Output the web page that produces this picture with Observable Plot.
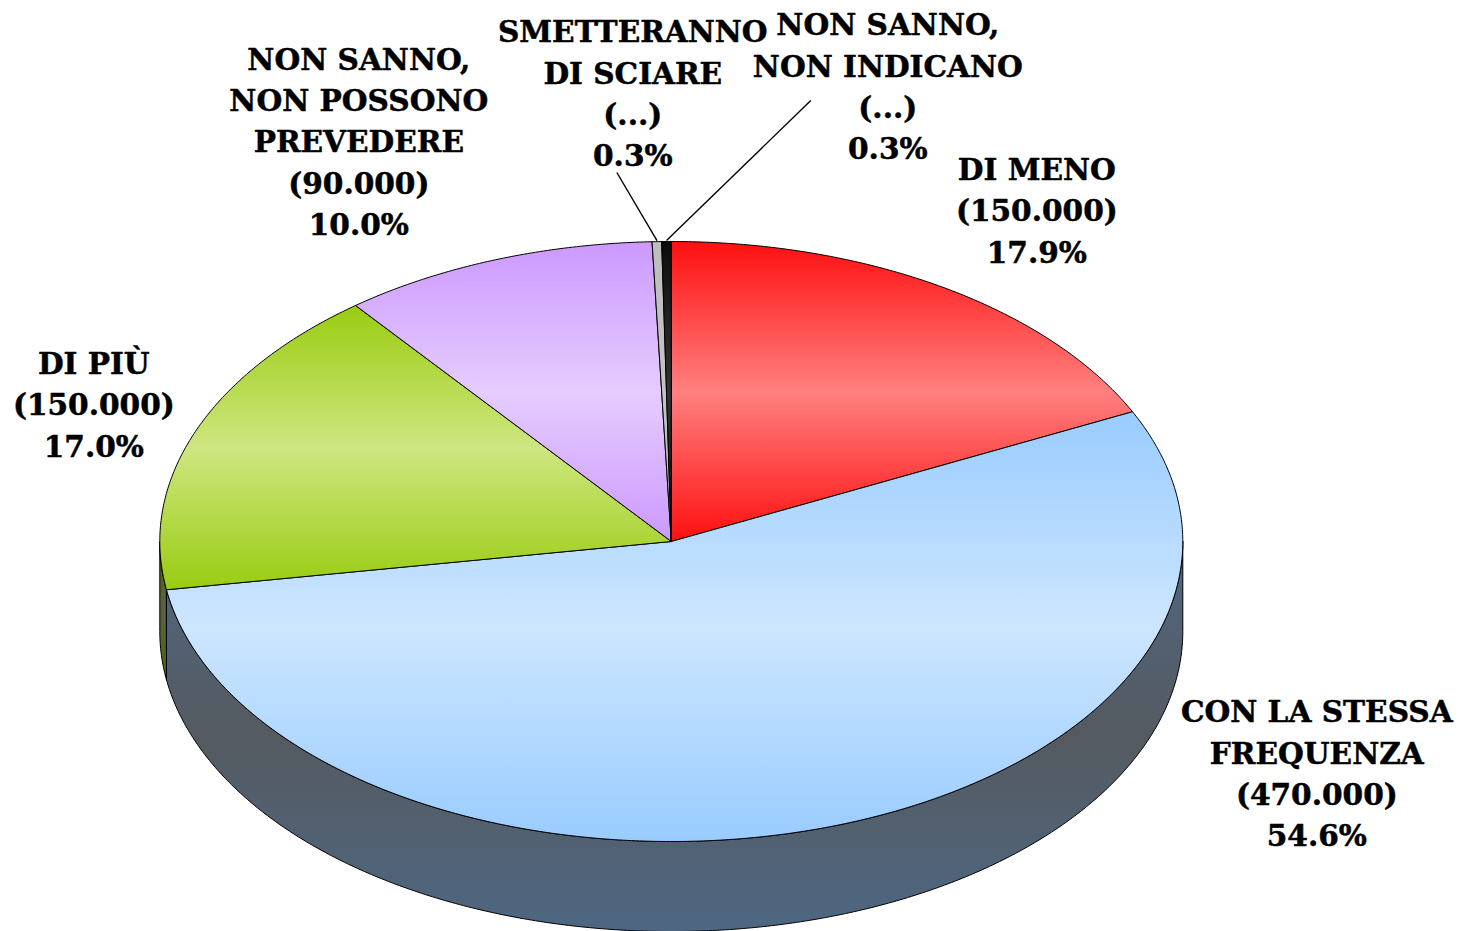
<!DOCTYPE html>
<html>
<head>
<meta charset="utf-8">
<script src="https://cdn.jsdelivr.net/npm/d3@7"></script>
<script src="https://cdn.jsdelivr.net/npm/@observablehq/plot@0.6"></script>
<style>
html,body{margin:0;padding:0;background:#fff;overflow:hidden}
svg{display:block}
</style>
</head>
<body>
<div id="chart"></div>
<script>
const categories = [
  "DI MENO",
  "CON LA STESSA\nFREQUENZA",
  "DI PIÙ",
  "NON SANNO,\nNON POSSONO\nPREVEDERE",
  "SMETTERANNO\nDI SCIARE",
  "NON SANNO,\nNON INDICANO"
];
const counts = [150000, 470000, 150000, 90000, null, null];
const percents = [17.9, 54.6, 17.0, 10.0, 0.3, 0.3];

// Styling and layout, separate from the values
const topStops = [
  ["#ff0f0f", "#ff8080", "#ff0f0f"],
  ["#99ccff", "#cde6ff", "#99ccff"],
  ["#99cc11", "#cee680", "#99cc11"],
  ["#cc99ff", "#e6ccff", "#cc99ff"],
  ["#bdbdbd", "#c4c4c4", "#bdbdbd"],
  ["#0c0c0c", "#333333", "#0c0c0c"]
];
const wallStops = {
  1: ["#4f6783", "#555a60", "#4e6782"],
  2: ["#4d6608", "#5c6040", "#4d6608"]
};
const labelX = [0.7146, 1.262, -1.129, -0.6109, -0.0753, 0.4233];
const labelY = [1.1116, -0.765, 0.465, 1.3416, 1.5016, 1.525];
const leaderEnd = {4: [-0.1065, 1.23], 5: [0.2727, 1.47]};
const depth = 0.3;              // wall height in radii of the vertical axis

const fmtCount = d3.formatLocale({decimal: ",", thousands: ".", grouping: [3], currency: ["", ""]}).format(",");
const total = d3.sum(percents);
const cum = d3.cumsum(percents);
const angleAt = (p) => (p / total) * 2 * Math.PI;

const slices = categories.map((c, i) => {
  const a0 = angleAt(i ? cum[i - 1] : 0), a1 = angleAt(cum[i]);
  return {i, a0, a1, mid: (a0 + a1) / 2};
});

function arc(a0, a1, dy = 0) {
  const n = Math.max(2, Math.ceil((a1 - a0) * 120));
  return d3.range(n + 1).map((k) => {
    const a = a0 + (a1 - a0) * k / n;
    return {x: Math.sin(a), y: Math.cos(a) + dy};
  });
}
const topPoly = (s) => {
  const pts = [{x: 0, y: 0}, ...arc(s.a0, s.a1), {x: 0, y: 0}];
  return pts;
};
const wallPoly = (a0, a1) => {
  const top = arc(a0, a1), bot = arc(a0, a1, -depth).reverse();
  return [...top, ...bot, top[0]];
};

function defs() {
  const ns = "http://www.w3.org/2000/svg";
  const d = document.createElementNS(ns, "defs");
  const add = (id, stops) => {
    const g = document.createElementNS(ns, "linearGradient");
    g.setAttribute("id", id);
    g.setAttribute("x1", 0); g.setAttribute("x2", 0);
    g.setAttribute("y1", 0); g.setAttribute("y2", 1);
    stops.forEach((c, k) => {
      const s = document.createElementNS(ns, "stop");
      s.setAttribute("offset", k / (stops.length - 1));
      s.setAttribute("stop-color", c);
      g.appendChild(s);
    });
    d.appendChild(g);
  };
  topStops.forEach((st, i) => add("top" + i, st));
  Object.entries(wallStops).forEach(([i, st]) => add("wall" + i, st));
  return d;
}

const lineOpts = {x: "x", y: "y", curve: "linear", stroke: "#000", strokeWidth: 1, strokeLinejoin: "round"};
const rightEdge = Math.PI / 2, leftEdge = 3 * Math.PI / 2;

const marks = [
  defs,
  Plot.line(wallPoly(slices[1].a1, leftEdge), {...lineOpts, fill: "url(#wall2)"}),
  Plot.line(wallPoly(rightEdge, slices[1].a1), {...lineOpts, fill: "url(#wall1)"}),
  ...slices.map((s) => Plot.line(topPoly(s), {...lineOpts, fill: `url(#top${s.i})`})),
  ...Object.entries(leaderEnd).map(([i, e]) => {
    const s = slices[+i];
    return Plot.link([{x1: e[0], y1: e[1], x2: Math.sin(s.mid) * 0.99, y2: 1.003}], {
      x1: "x1", y1: "y1", x2: "x2", y2: "y2", stroke: "#000", strokeWidth: 1.4
    });
  }),
  Plot.text(categories.map((c, i) => {
    const parts = [c];
    parts.push(counts[i] == null ? "(...)" : `(${fmtCount(counts[i])})`);
    parts.push(percents[i].toFixed(1) + "%");
    return {t: parts.join("\n"), x: labelX[i], y: labelY[i]};
  }), {
    x: "x", y: "y", text: "t",
    fontFamily: "DejaVu Serif", fontWeight: "bold", fontSize: 29.6,
    lineHeight: 1.396, lineAnchor: "middle", textAnchor: "middle", fill: "#000",
    stroke: "#000", strokeWidth: 0.5
  })
];

const chart = Plot.plot({
  width: 1460, height: 931, margin: 0,
  x: {axis: null, domain: [-670.8 / 511.5, (1460 - 670.8) / 511.5], range: [0, 1460]},
  y: {axis: null, domain: [-(931 - 541) / 300, 541 / 300], range: [931, 0]},
  style: {background: "none"},
  marks
});
document.getElementById("chart").appendChild(chart);
</script>
</body>
</html>
